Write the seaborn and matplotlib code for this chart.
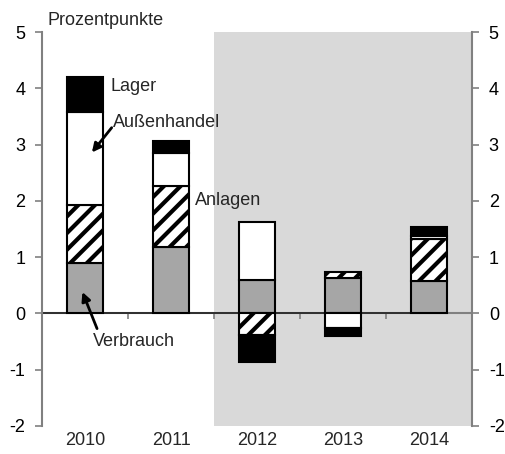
import matplotlib
matplotlib.use("Agg")
import matplotlib.pyplot as plt
import seaborn as sns
import numpy as np
import pandas as pd

years = ["2010", "2011", "2012", "2013", "2014"]
verbrauch = [0.90, 1.18, 0.60, 0.63, 0.57]
anlagen = [1.02, 1.09, -0.39, 0.11, 0.75]
aussenhandel = [1.66, 0.58, 1.02, -0.26, 0.06]
lager = [0.62, 0.21, -0.47, -0.15, 0.16]
yticks = [-2, -1, 0, 1, 2, 3, 4, 5]

sns.set_theme(style="white")
plt.rcParams['font.family'] = ['Liberation Sans', 'DejaVu Sans']
plt.rcParams['hatch.linewidth'] = 3.0
plt.rcParams['hatch.color'] = 'black'

fig = plt.figure(figsize=(5.06, 4.54), dpi=100)
ax = fig.add_axes([0.083, 0.0617, 0.850, 0.8678])

ax.axvspan(1.5, 4.5, color="#d9d9d9", lw=0, zorder=0)

series = [
    ("Verbrauch", verbrauch, dict(color="#a6a6a6")),
    ("Anlagen", anlagen, dict(color="white", hatch="//")),
    ("Außenhandel", aussenhandel, dict(color="white")),
    ("Lager", lager, dict(color="black")),
]

pos_base = np.zeros(len(years))
neg_base = np.zeros(len(years))
for name, vals, style in series:
    vals = np.array(vals)
    bottoms = np.where(vals >= 0, pos_base, neg_base)
    df = pd.DataFrame({"year": years, "value": vals})
    sns.barplot(data=df, x="year", y="value", ax=ax, bottom=bottoms,
                width=0.42, edgecolor="black", linewidth=1.5,
                errorbar=None, zorder=3, **style)
    pos_base = pos_base + np.where(vals >= 0, vals, 0)
    neg_base = neg_base + np.where(vals < 0, vals, 0)

ax.set_xlim(-0.5, 4.5)
ax.set_ylim(-2, 5)
ax.set_xlabel("")
ax.set_ylabel("")

# zero line
ax.axhline(0, color="#808080", lw=1.5, zorder=2)
ax.plot([-0.5, 4.0], [0, 0], color="#222222", lw=1.2, zorder=2.5)

# spines
for s in ["top", "bottom"]:
    ax.spines[s].set_visible(False)
for s in ["left", "right"]:
    ax.spines[s].set_visible(True)
    ax.spines[s].set_color("#808080")
    ax.spines[s].set_linewidth(1.5)

fs = 13
ax.set_yticks(yticks)
ax.set_yticklabels([str(t) for t in yticks])
ax.tick_params(axis="y", which="both", left=True, right=True, labelleft=True,
               labelright=True, direction="out", length=5, width=1.2,
               color="#808080", labelsize=fs, pad=7, labelcolor="black")
ax.set_xticks(range(len(years)))
ax.set_xticklabels(years)
ax.tick_params(axis="x", length=0, labelsize=fs, pad=4)

# boundary ticks on the zero line
sec = ax.secondary_xaxis(2 / 7)
sec.set_xticks([0.5, 1.5, 2.5, 3.5])
sec.set_xticklabels([])
sec.tick_params(direction="out", length=4, width=1.2, color="#808080")
sec.spines["bottom"].set_visible(False)
sec.spines["top"].set_visible(False)

# annotations
ax.text(-0.44, 5.05, "Prozentpunkte", fontsize=fs, ha="left", va="bottom")
ax.text(0.30, 4.03, "Lager", fontsize=fs, ha="left", va="center")
ax.text(0.33, 3.39, "Außenhandel", fontsize=fs, ha="left", va="center")
ax.text(1.28, 2.00, "Anlagen", fontsize=fs, ha="left", va="center")
ax.text(0.09, -0.50, "Verbrauch", fontsize=fs, ha="left", va="center")
ax.annotate("", xy=(0.08, 2.86), xytext=(0.31, 3.30),
            arrowprops=dict(arrowstyle="-|>", color="black", lw=2.0,
                            mutation_scale=13, shrinkA=0, shrinkB=0), zorder=6)
ax.annotate("", xy=(-0.03, 0.38), xytext=(0.14, -0.27),
            arrowprops=dict(arrowstyle="-|>", color="black", lw=2.0,
                            mutation_scale=13, shrinkA=0, shrinkB=0), zorder=6)

fig.savefig("out.png", dpi=100)
